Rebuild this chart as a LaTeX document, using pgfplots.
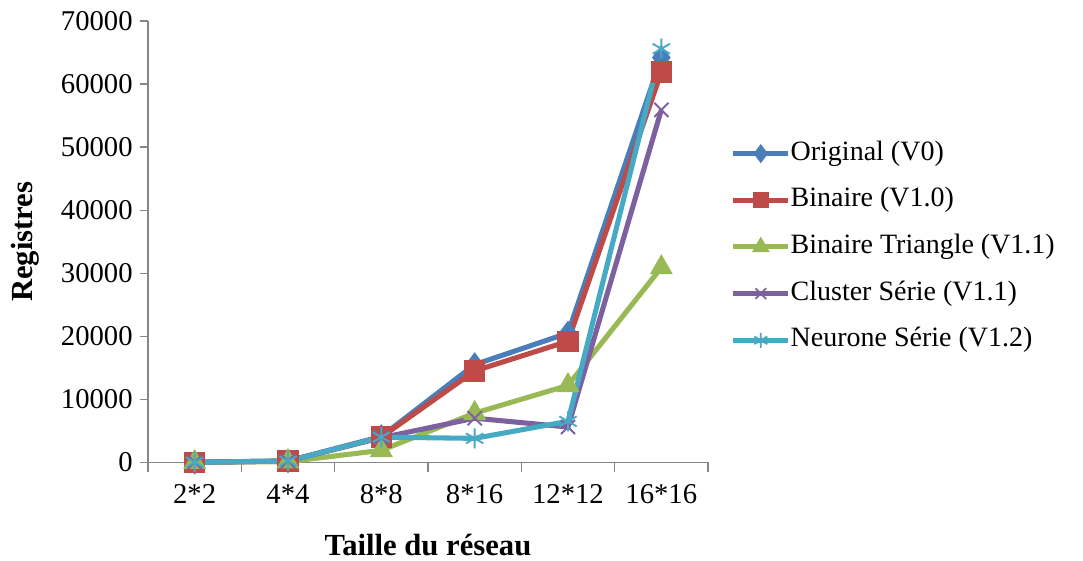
\documentclass[border=0pt]{standalone}
\usepackage{pgfplots}
\pgfplotsset{compat=1.18}
\usepackage{fontspec}
\setmainfont{Liberation Serif}
\definecolor{cBlue}{HTML}{4A7EBB}
\definecolor{cRed}{HTML}{BE4B48}
\definecolor{cGreen}{HTML}{98B954}
\definecolor{cPurple}{HTML}{7D60A0}
\definecolor{cCyan}{HTML}{46AAC5}
\definecolor{cAxis}{HTML}{868686}
\begin{document}
\begin{tikzpicture}
\path[use as bounding box] (-111pt,-73.5pt) rectangle (701.25pt,346.75pt);
\begin{axis}[
  at={(0pt,0pt)}, anchor=south west,
  scale only axis,
  width=420pt, height=331pt,
  xmin=-0.5, xmax=5.5,
  ymin=0, ymax=70000,
  ytick={0,10000,...,70000},
  scaled y ticks=false,
  /pgf/number format/assume math mode=true,
  /pgf/number format/fixed,
  /pgf/number format/1000 sep={},
  xtick={0,1,2,3,4,5},
  xticklabels={2*2,4*4,8*8,8*16,12*12,16*16},
  minor xtick={-0.5,0.5,1.5,2.5,3.5,4.5,5.5},
  major x tick style={draw=none},
  minor tick length=7pt,
  major tick length=6pt,
  tick align=outside,
  tick style={cAxis, line width=0.9pt},
  axis x line*=bottom,
  axis y line*=left,
  axis line style={cAxis, line width=0.9pt, -},
  tick label style={font=\fontsize{21.5}{23}\selectfont},
  xticklabel style={yshift=-7pt},
  yticklabel style={xshift=-2pt},
  xlabel={\textbf{Taille du réseau}},
  ylabel={\textbf{Registres}},
  label style={font=\fontsize{23}{25}\selectfont},
  xlabel style={at={(axis description cs:0.5,0)}, anchor=center, yshift=-62pt},
  ylabel style={at={(axis description cs:0,0.5)}, anchor=center, rotate=0, yshift=92pt},
  legend style={draw=none, fill=none, at={(1.0,0.488)}, xshift=14pt, anchor=west,
    font=\fontsize{21}{23}\selectfont, row sep=15pt,
    nodes={inner sep=0pt, text height=15pt, text depth=5pt},
    /tikz/every even column/.append style={column sep=4pt}},
  legend cell align=left,
  legend image code/.code={
    \draw[#1] (0pt,0pt) -- (41pt,0pt);
    \draw[#1, only marks, every mark/.append style={scale=0.75}] plot coordinates {(20.5pt,0pt)};
  },
  every axis plot/.append style={line width=3.8pt},
  clip=false,
]
\addplot[cBlue, mark=diamond*, mark size=8.5pt, mark options={solid, fill=cBlue, line width=1pt}] coordinates {(0,16) (1,220) (2,4100) (3,15500) (4,20500) (5,64200)};
\addlegendentry{Original (V0)}
\addplot[cRed, mark=square*, mark size=7.5pt, mark options={solid, fill=cRed, line width=1pt}] coordinates {(0,16) (1,200) (2,4000) (3,14500) (4,19200) (5,61900)};
\addlegendentry{Binaire (V1.0)}
\addplot[cGreen, mark=triangle*, mark size=9pt, mark options={solid, fill=cGreen, line width=1pt}] coordinates {(0,10) (1,100) (2,1900) (3,7800) (4,12200) (5,30900)};
\addlegendentry{Binaire Triangle (V1.1)}
\addplot[cPurple, mark=x, mark size=7.5pt, mark options={solid, line width=1.4pt}] coordinates {(0,16) (1,200) (2,3900) (3,7000) (4,5600) (5,55900)};
\addlegendentry{Cluster Série (V1.1)}
\addplot[cCyan, mark=asterisk, mark size=7.5pt, mark options={solid, line width=1.4pt}] coordinates {(0,16) (1,200) (2,4000) (3,3800) (4,6500) (5,65600)};
\addlegendentry{Neurone Série (V1.2)}
\end{axis}
\end{tikzpicture}
\end{document}
